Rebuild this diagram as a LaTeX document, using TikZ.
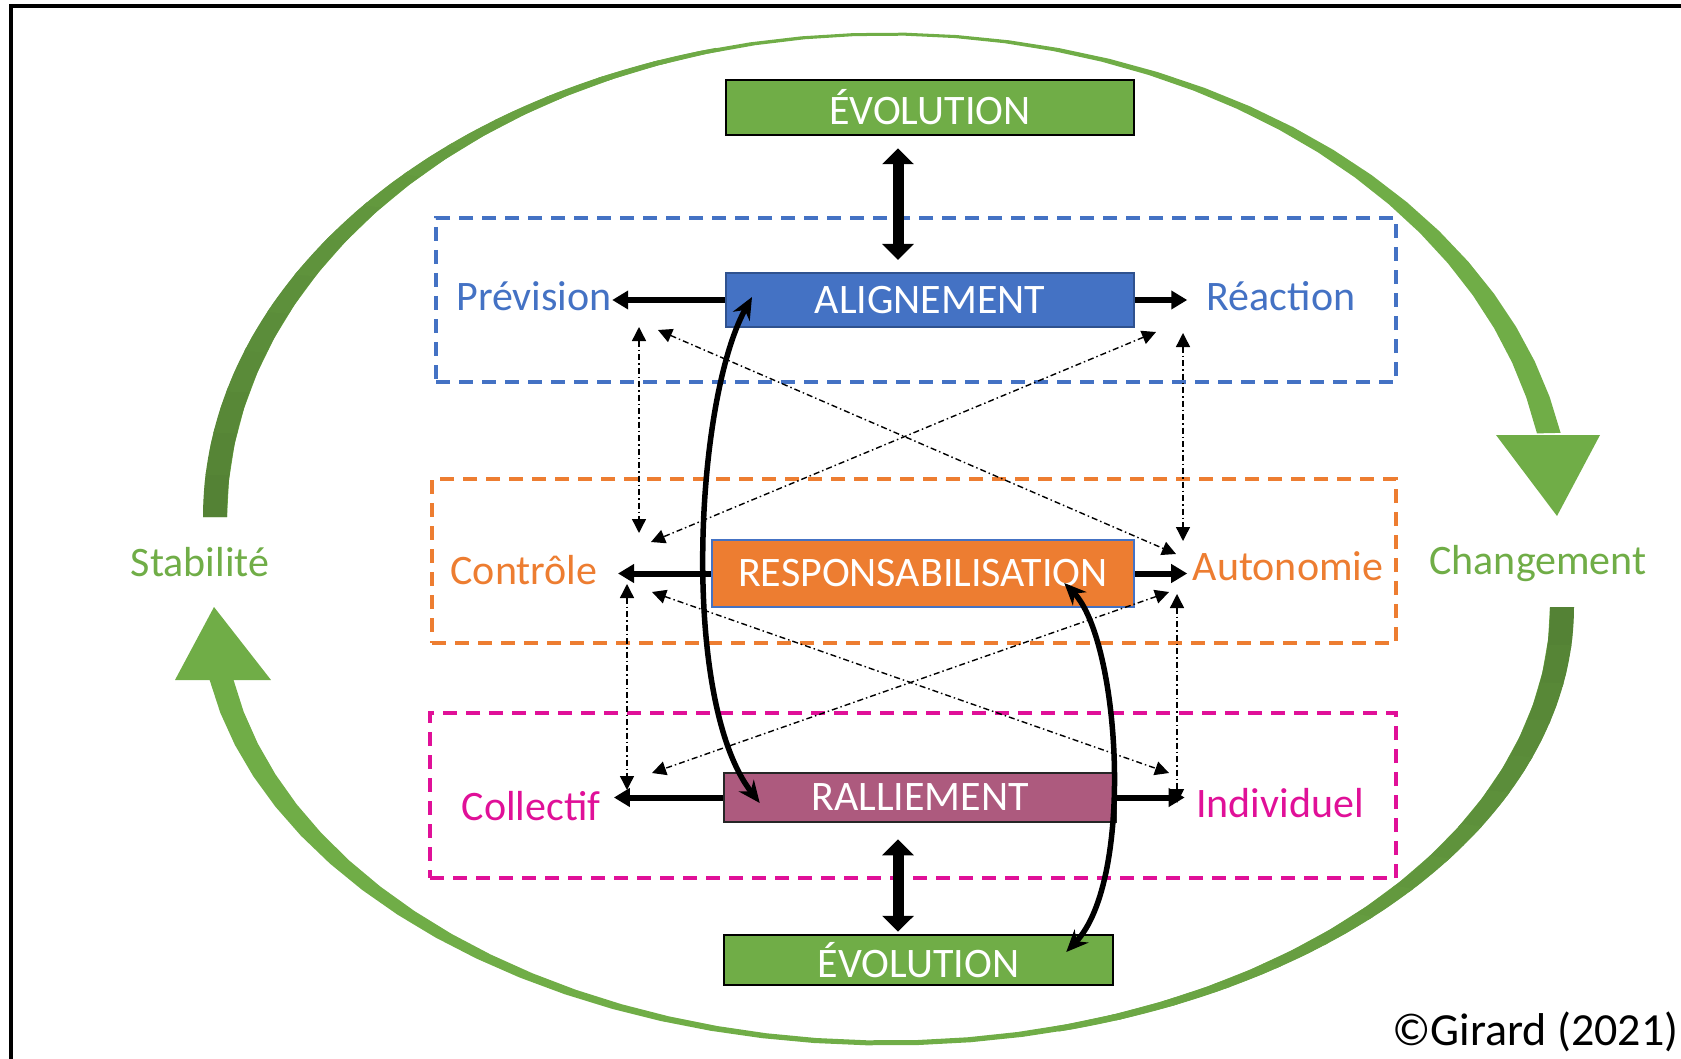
\documentclass[tikz,border=0pt]{standalone}
\usepackage{fontspec}
\setmainfont{Carlito}
\usetikzlibrary{arrows.meta}
\definecolor{evolgreen}{RGB}{112,173,71}
\definecolor{darkgreen}{RGB}{84,130,53}
\definecolor{alignblue}{RGB}{68,114,196}
\definecolor{blueedge}{RGB}{47,82,143}
\definecolor{resporange}{RGB}{237,125,49}
\definecolor{rallmauve}{RGB}{173,90,126}
\definecolor{rallpink}{RGB}{224,16,152}

\tikzset{
    dblarrow/.style={line width=11pt, {Triangle[width=31pt,length=16pt]}-{Triangle[width=31pt,length=16pt]}},
    sidearrow/.style={line width=6pt, -{Triangle[width=18pt,length=16pt]}},
    linkarrow/.style={line width=1.4pt, dash pattern=on 6pt off 3pt on 1.5pt off 3pt, {Triangle[width=14pt,length=14pt]}-{Triangle[width=14pt,length=14pt]}},
    curvearrow/.style={line width=5.5pt, {Stealth[width=19pt,length=22pt]}-{Stealth[width=19pt,length=22pt]}},
    zone/.style={draw, rectangle, line width=3.5pt, dash pattern=on 14pt off 9pt},
    sidelabel/.style={anchor=base},
}
% band of the upper and lower cycle arrows
\newcommand{\upperband}[2]{plot[domain=#1:#2, samples=40] ({887+684*cos(\x)},{517+484.5*sin(\x)}) -- plot[domain=#2:#1, samples=40] ({887+660*cos(\x)},{517+481.5*sin(\x)}) -- cycle}
\newcommand{\lowerband}[2]{plot[domain=#1:#2, samples=40] ({887+687*cos(\x)},{607+438.5*sin(\x)}) -- plot[domain=#2:#1, samples=40] ({887+663*cos(\x)},{607+433.5*sin(\x)}) -- cycle}

\begin{document}
\begin{tikzpicture}[x=1pt, y=-1pt, font=\fontsize{42}{50}\selectfont]
    \useasboundingbox (0,0) rectangle (1681,1059);
    \draw[line width=4pt] (11,1059) -- (11,6) -- (1681,6);

    % cycle stabilite / changement
    \fill[evolgreen] \upperband{180}{350};
    \fill[evolgreen] (1496,435) -- (1600,435) -- (1557,516) -- cycle;
    \fill[evolgreen] \lowerband{0}{170.4};
    \fill[evolgreen] (175,680) -- (271,680) -- (214,607) -- cycle;
    \foreach \i in {0,...,14} {
        \pgfmathsetmacro{\ta}{180+5*\i}
        \pgfmathsetmacro{\tb}{\ta+5.5}
        \pgfmathsetmacro{\tc}{5*\i}
        \pgfmathsetmacro{\td}{\tc+5.5}
        \pgfmathtruncatemacro{\mix}{\i*100/15}
        \fill[evolgreen!\mix!darkgreen] \upperband{\ta}{\tb};
        \fill[evolgreen!\mix!darkgreen] \lowerband{\tc}{\td};
    }
    \node[text=evolgreen, sidelabel] (stab) at (200,576) {Stabilité};
    \node[text=evolgreen, sidelabel] (chg) at (1538,574) {Changement};

    % zones
    \node[zone, draw=alignblue, minimum width=960pt, minimum height=164pt] (zalign) at (916,300) {};
    \node[zone, draw=resporange, minimum width=964pt, minimum height=164pt] (zresp) at (914,561) {};
    \node[zone, draw=rallpink, minimum width=966pt, minimum height=165pt] (zrall) at (913,795.5) {};

    % boxes
    \node[draw=black, line width=2.5pt, fill=evolgreen, text=white, inner sep=2pt, minimum width=408pt, minimum height=55pt] (evoltop) at (930,107.5) {ÉVOLUTION};
    \node[draw=blueedge, line width=2pt, fill=alignblue, text=white, inner sep=2pt, minimum width=408pt, minimum height=54pt] (align) at (930,300) {ALIGNEMENT};
    \node[draw=alignblue, line width=2.5pt, fill=resporange, text=white, inner sep=2pt, minimum width=422pt, minimum height=67pt] (resp) at (923,573.5) {RESPONSABILISATION};
    \node[draw=black!85, line width=2.5pt, fill=rallmauve, text=white, inner sep=2pt, minimum width=392pt, minimum height=49pt] (rall) at (920,797.5) {RALLIEMENT};
    \node[draw=black, line width=2.5pt, fill=evolgreen, text=white, inner sep=2pt, minimum width=389pt, minimum height=50pt] (evolbot) at (918.5,960) {ÉVOLUTION};

    % side labels
    \node[text=alignblue, sidelabel] (prev) at (534,310) {Prévision};
    \node[text=alignblue, sidelabel] (reac) at (1281,311) {Réaction};
    \node[text=resporange, sidelabel] (ctrl) at (524,584) {Contrôle};
    \node[text=resporange, sidelabel] (auto) at (1288,580) {Autonomie};
    \node[text=rallpink, sidelabel] (coll) at (531,820) {Collectif};
    \node[text=rallpink, sidelabel] (indi) at (1280,817) {Individuel};

    \node[anchor=base west, inner sep=0pt, font=\fontsize{46}{54}\selectfont] (copy) at (1392,1045) {©Girard (2021)};

    \draw[sidearrow, shorten >=-3pt] (align.west) -- (align.west -| prev.east);
    \draw[sidearrow, shorten >=16pt] (align.east) -- (align.east -| reac.west);
    \draw[sidearrow, shorten >=17pt] (resp.west) -- (resp.west -| ctrl.east);
    \draw[sidearrow, shorten >=2pt] (resp.east) -- (resp.east -| auto.west);
    \draw[sidearrow, shorten >=10pt] (rall.west) -- (rall.west -| coll.east);
    \draw[sidearrow, shorten >=8pt] (rall.east) -- (rall.east -| indi.west);

    \draw[dblarrow] ([xshift=-32pt,yshift=-12pt]evoltop.south) -- ([xshift=-32pt,yshift=12pt]align.north);
    \draw[dblarrow] ([xshift=-22pt,yshift=-16pt]rall.south) -- ([xshift=-20.5pt,yshift=2pt]evolbot.north);

    % links between the poles
    \coordinate (prevA) at (639,327);
    \coordinate (prevB) at (658,330);
    \coordinate (reacA) at (1183,333);
    \coordinate (reacB) at (1156,332);
    \coordinate (ctrlA) at (639,533);
    \coordinate (ctrlB) at (651,542);
    \coordinate (ctrlC) at (627,584);
    \coordinate (ctrlD) at (652,592);
    \coordinate (autoA) at (1183,541);
    \coordinate (autoB) at (1176,554);
    \coordinate (autoC) at (1177,594);
    \coordinate (autoD) at (1169,592);
    \coordinate (collA) at (627,790);
    \coordinate (collB) at (652,773);
    \coordinate (indiA) at (1177,803);
    \coordinate (indiB) at (1169,773);

    \draw[linkarrow] (prevA) -- (ctrlA);
    \draw[linkarrow] (reacA) -- (autoA);
    \draw[linkarrow] (prevB) -- (autoB);
    \draw[linkarrow] (reacB) -- (ctrlB);
    \draw[linkarrow] (ctrlC) -- (collA);
    \draw[linkarrow] (autoC) -- (indiA);
    \draw[linkarrow] (ctrlD) -- (indiB);
    \draw[linkarrow] (autoD) -- (collB);

    \draw[curvearrow] ([xshift=27pt,yshift=3pt]align.west) .. controls (695,400) and (680,700) .. ([xshift=37pt,yshift=-5.5pt]rall.west);
    \draw[curvearrow] ([xshift=-71pt,yshift=-9.5pt]resp.east) .. controls (1120,640) and (1135,880) .. ([xshift=-48pt,yshift=8pt]evolbot.east);
\end{tikzpicture}
\end{document}
